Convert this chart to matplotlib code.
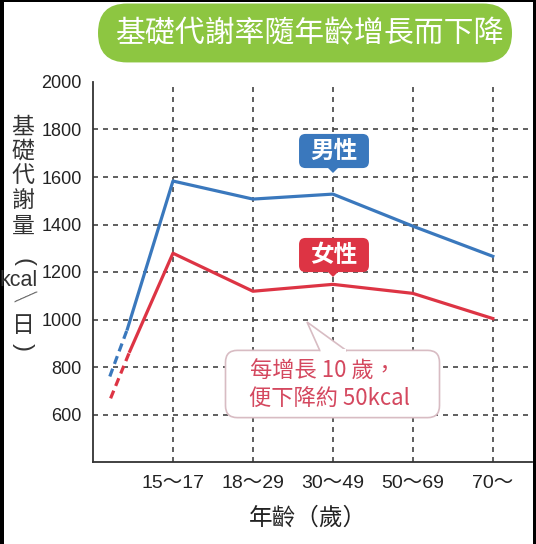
import matplotlib
matplotlib.use('Agg')
import matplotlib.pyplot as plt
from matplotlib.patches import FancyBboxPatch, Rectangle, Polygon

CJK = 'Noto Sans CJK TC'
NUM = ['Liberation Sans', 'Noto Sans CJK TC']
plt.rcParams['font.family'] = NUM

# data
ages = ['15～17', '18～29', '30～49', '50～69', '70～']
male = [1583, 1507, 1528, 1393, 1266]
female = [1279, 1119, 1148, 1110, 1004]
# dashed lead-in before 15 years (x position, value)
male_lead_x = [0.21, 0.43]
male_lead_y = [760, 960]
female_lead_x = [0.22, 0.46]
female_lead_y = [668, 866]
yticks = [600, 800, 1000, 1200, 1400, 1600, 1800, 2000]

W, H = 536, 544
BLUE = '#3a78bd'
RED = '#dd3444'
GREEN = '#8dc641'


def fx(px):
    return px / W


def fy(py):
    return 1 - py / H


fig = plt.figure(figsize=(W / 100, H / 100), dpi=100, facecolor='black')
fig.patches.append(Rectangle((fx(4), 0), fx(533) - fx(4), fy(2), transform=fig.transFigure,
                             facecolor='white', edgecolor='none', zorder=-10))

ax = fig.add_axes([fx(93), fy(462), fx(532) - fx(93), fy(82) - fy(462)])
ax.set_facecolor('none')
xs = list(range(1, len(ages) + 1))

ax.plot(male_lead_x, male_lead_y, color=BLUE, lw=2.3, ls=(0, (2.6, 1.6)), solid_capstyle='butt')
ax.plot([male_lead_x[-1]] + xs, [male_lead_y[-1]] + male, color=BLUE, lw=2.3)
ax.plot(female_lead_x, female_lead_y, color=RED, lw=2.3, ls=(0, (2.6, 1.6)), solid_capstyle='butt')
ax.plot([female_lead_x[-1]] + xs, [female_lead_y[-1]] + female, color=RED, lw=2.3)

ax.set_xlim(0, 5.49)
ax.set_ylim(400, 2000)
ax.set_xticks(xs)
ax.set_xticklabels(ages, fontsize=14, color='#222222')
ax.set_yticks(yticks)
ax.set_yticklabels([str(v) for v in yticks], fontsize=13, color='#222222')
ax.tick_params(length=0, pad=8)
ax.tick_params(axis='x', pad=9)

ax.grid(True, color='#444444', lw=1.2, ls=(0, (3, 3)))
ax.get_ygridlines()[-1].set_visible(False)  # no line at 2000
ax.set_axisbelow(True)
for side in ['top', 'right']:
    ax.spines[side].set_visible(False)
for side in ['left', 'bottom']:
    ax.spines[side].set_color('#333333')
    ax.spines[side].set_linewidth(1.3)

# title pill
pill = FancyBboxPatch((fx(127), fy(33)), fx(483) - fx(127), 0.0001,
                      boxstyle='round', transform=fig.transFigure,
                      facecolor=GREEN, edgecolor='none')
pill.set_boxstyle('round', pad=fx(29), rounding_size=fx(29))
fig.patches.append(pill)
fig.text(fx(310), fy(34), '基礎代謝率隨年齡增長而下降', family=CJK, fontsize=21.5,
         color='white', ha='center', va='center', weight='light')

# y label stacked vertically
INK = '#333333'
for ch, py in [('基', 127), ('礎', 151), ('代', 175), ('謝', 200), ('量', 226), ('日', 325)]:
    fig.text(fx(23), fy(py), ch, family=CJK, fontsize=16.5, color=INK,
             ha='center', va='center')
fig.text(fx(23), fy(262), '(', family='Liberation Sans', fontsize=17, color=INK,
         ha='center', va='center', rotation=-90)
fig.text(fx(23), fy(347), ')', family='Liberation Sans', fontsize=17, color=INK,
         ha='center', va='center', rotation=-90)
fig.text(fx(19), fy(281), 'kcal', family=NUM, fontsize=15.5, color=INK,
         ha='center', va='center')
fig.text(fx(24), fy(299), '／', family=CJK, fontsize=14, color=INK,
         ha='center', va='center', rotation=-21)

fig.text(fx(308), fy(518), '年齡（歲）', family=CJK, fontsize=17, color='#222222',
         ha='center', va='center')

# legend bubbles
for label, col, cy in [('男性', BLUE, 151), ('女性', RED, 255)]:
    fig.patches.append(FancyBboxPatch((fx(306), fy(cy + 10)), fx(362) - fx(306), fy(cy - 10) - fy(cy + 10),
                                      boxstyle='round,pad=0.013,rounding_size=0.012',
                                      transform=fig.transFigure, facecolor=col, edgecolor='none'))
    fig.patches.append(Polygon([(fx(328), fy(cy + 17)), (fx(338), fy(cy + 17)), (fx(333), fy(cy + 22))],
                               closed=True, transform=fig.transFigure, facecolor=col, edgecolor='none'))
    fig.text(fx(334), fy(cy), label, family=CJK, fontsize=17, color='white',
             ha='center', va='center', weight='bold')

# callout
fig.patches.append(FancyBboxPatch((fx(233), fy(410)), fx(432) - fx(233), fy(358) - fy(410),
                                  boxstyle='round,pad=0.014,rounding_size=0.022',
                                  transform=fig.transFigure, facecolor='white',
                                  edgecolor='#d8bcc3', lw=1.2, zorder=5))
fig.patches.append(Polygon([(fx(320), fy(351)), (fx(307), fy(322)), (fx(347), fy(351))],
                           closed=False, transform=fig.transFigure, facecolor='white',
                           edgecolor='#d8bcc3', lw=1.2, zorder=6))
fig.patches.append(Rectangle((fx(321), fy(353)), fx(346) - fx(321), fy(349) - fy(353),
                             transform=fig.transFigure, facecolor='white', edgecolor='none', zorder=7))
fig.text(fx(250), fy(371), '每增長 10 歲，', family=NUM[::-1], fontsize=16, color='#d4485f',
         ha='left', va='center', zorder=8)
fig.text(fx(249), fy(399), '便下降約 50kcal', family=NUM[::-1], fontsize=16, color='#d4485f',
         ha='left', va='center', zorder=8)

fig.savefig('out.png', dpi=100, facecolor=fig.get_facecolor())
